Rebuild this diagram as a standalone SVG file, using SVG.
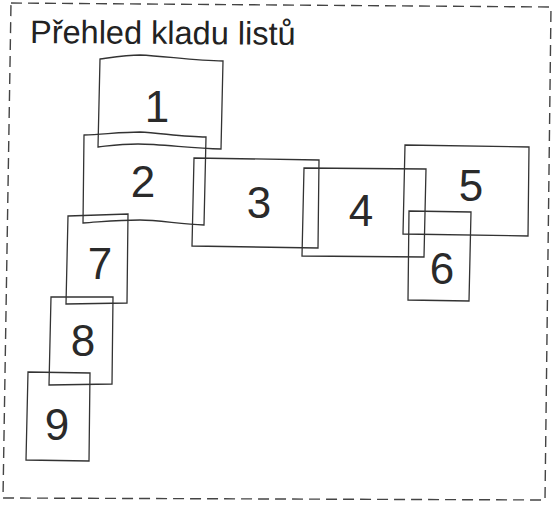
<svg xmlns="http://www.w3.org/2000/svg" width="556" height="505" viewBox="0 0 556 505">
<style>
.sheet{fill:none;stroke:#333;stroke-width:1.3;stroke-linejoin:miter}
.num{font-family:"Liberation Sans",Arial,sans-serif;font-size:44px;fill:#2a2a2a;text-anchor:middle}
.title{font-family:"Liberation Sans",Arial,sans-serif;font-size:32.5px;fill:#222}
.frame{fill:none;stroke:#444;stroke-width:1.4;stroke-dasharray:11 6}
</style>
<rect width="556" height="505" fill="#fff"/>
<polygon class="frame" points="11,3 551,7 545,500 3,498"/>
<text class="title" x="30" y="43" transform="rotate(0.4 30 43)">Přehled kladu listů</text>
<g id="sheet1"><path class="sheet" d="M100,59 C115,57 128,55 140,55 C165,56 195,61 223,61 L221,149 C190,148 160,144 138,144 C120,144 108,146 98,147 Z"/><text class="num" x="157" y="122">1</text></g>
<g id="sheet2"><path class="sheet" d="M84,135 C105,134 125,132 140,132 C160,133 185,137 206,137 L204,225 C180,224 158,220 140,220 C118,220 100,222 83,223 Z"/><text class="num" x="143" y="197">2</text></g>
<g id="sheet3"><polygon class="sheet" points="194,158 319,160 318,248 192,246"/><text class="num" x="259" y="218">3</text></g>
<g id="sheet4"><polygon class="sheet" points="304,168 426,169 424,257 302,256"/><text class="num" x="361" y="226">4</text></g>
<g id="sheet5"><polygon class="sheet" points="405,145 529,147 528,236 403,234"/><text class="num" x="471" y="201">5</text></g>
<g id="sheet6"><polygon class="sheet" points="409,211 471,212 469,301 408,300"/><text class="num" x="442" y="284">6</text></g>
<g id="sheet7"><polygon class="sheet" points="68,216 128,214 127,303 66,304"/><text class="num" x="100" y="279">7</text></g>
<g id="sheet8"><polygon class="sheet" points="51,297 113,297 112,384 49,385"/><text class="num" x="83" y="356">8</text></g>
<g id="sheet9"><polygon class="sheet" points="28,372 90,373 89,461 26,460"/><text class="num" x="57" y="440">9</text></g>
<g id="connectors"></g>
</svg>
